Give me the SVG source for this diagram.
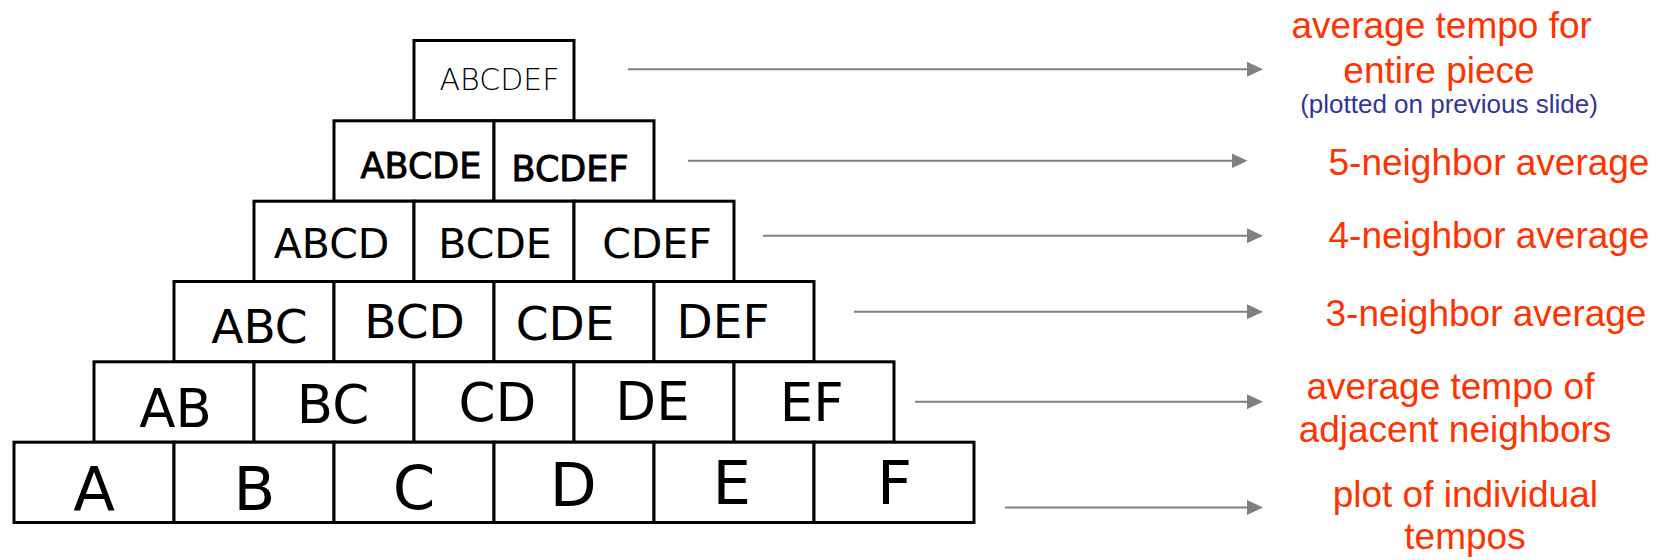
<svg xmlns="http://www.w3.org/2000/svg" width="1661" height="560" viewBox="0 0 1661 560">
<style>
.cell{fill:#ffffff;stroke:#000000;stroke-width:3}
.t{font-family:"DejaVu Sans",Verdana,sans-serif;fill:#000000;text-anchor:middle}
.r0{font-size:30px;font-weight:200}
.r1{font-size:35px;stroke:#000000;stroke-width:0.9}
.r2{font-size:41px}
.r3{font-size:47px}
.r4{font-size:53px}
.r5{font-size:61px}
.lab{font-family:"Liberation Sans",Arial,sans-serif;font-size:37px;fill:#ff3300;text-anchor:middle}
.sub{font-family:"Liberation Sans",Arial,sans-serif;font-size:26px;fill:#333399;text-anchor:middle}
.arr{stroke:#808080;stroke-width:2;fill:none}
</style>
<defs>
<marker id="ah" markerUnits="userSpaceOnUse" markerWidth="16" markerHeight="15" viewBox="0 0 16 15" refX="1" refY="7.5" orient="auto">
<path d="M0,0 L16,7.5 L0,15 z" fill="#808080"/>
</marker>
</defs>
<rect width="1661" height="560" fill="#ffffff"/>
<g id="row0">
<g id="n-ABCDEF"><rect class="cell" x="414" y="40.5" width="160" height="80.3"/><text class="t r0" x="499.5" y="90">ABCDEF</text></g>
</g>
<g id="row1">
<g id="n-ABCDE"><rect class="cell" x="334" y="120.8" width="160" height="80.4"/><text class="t r1" x="421" y="178.3">ABCDE</text></g>
<g id="n-BCDEF"><rect class="cell" x="494" y="120.8" width="160" height="80.4"/><text class="t r1" x="570" y="180.7">BCDEF</text></g>
</g>
<g id="row2">
<g id="n-ABCD"><rect class="cell" x="254" y="201.2" width="160" height="80.3"/><text class="t r2" x="331.5" y="258">ABCD</text></g>
<g id="n-BCDE"><rect class="cell" x="414" y="201.2" width="160" height="80.3"/><text class="t r2" x="495" y="258.3">BCDE</text></g>
<g id="n-CDEF"><rect class="cell" x="574" y="201.2" width="160" height="80.3"/><text class="t r2" x="657" y="258.3">CDEF</text></g>
</g>
<g id="row3">
<g id="n-ABC"><rect class="cell" x="174" y="281.5" width="160" height="80.3"/><text class="t r3" x="259.5" y="343">ABC</text></g>
<g id="n-BCD"><rect class="cell" x="334" y="281.5" width="160" height="80.3"/><text class="t r3" x="414.5" y="338">BCD</text></g>
<g id="n-CDE"><rect class="cell" x="494" y="281.5" width="160" height="80.3"/><text class="t r3" x="565" y="340">CDE</text></g>
<g id="n-DEF"><rect class="cell" x="654" y="281.5" width="160" height="80.3"/><text class="t r3" x="723" y="337.5">DEF</text></g>
</g>
<g id="row4">
<g id="n-AB"><rect class="cell" x="94" y="361.8" width="160" height="80.4"/><text class="t r4" x="175.5" y="426.7">AB</text></g>
<g id="n-BC"><rect class="cell" x="254" y="361.8" width="160" height="80.4"/><text class="t r4" x="333" y="422.7">BC</text></g>
<g id="n-CD"><rect class="cell" x="414" y="361.8" width="160" height="80.4"/><text class="t r4" x="497.5" y="420.7">CD</text></g>
<g id="n-DE"><rect class="cell" x="574" y="361.8" width="160" height="80.4"/><text class="t r4" x="652.5" y="419.5">DE</text></g>
<g id="n-EF"><rect class="cell" x="734" y="361.8" width="160" height="80.4"/><text class="t r4" x="811.7" y="420.7">EF</text></g>
</g>
<g id="row5">
<g id="n-A"><rect class="cell" x="14" y="442.2" width="160" height="80.3"/><text class="t r5" x="94" y="510">A</text></g>
<g id="n-B"><rect class="cell" x="174" y="442.2" width="160" height="80.3"/><text class="t r5" x="254.5" y="510">B</text></g>
<g id="n-C"><rect class="cell" x="334" y="442.2" width="160" height="80.3"/><text class="t r5" x="414" y="509">C</text></g>
<g id="n-D"><rect class="cell" x="494" y="442.2" width="160" height="80.3"/><text class="t r5" x="573.3" y="505.7">D</text></g>
<g id="n-E"><rect class="cell" x="654" y="442.2" width="160" height="80.3"/><text class="t r5" x="731.7" y="504">E</text></g>
<g id="n-F"><rect class="cell" x="814" y="442.2" width="160" height="80.3"/><text class="t r5" x="894.5" y="504">F</text></g>
</g>
<g id="connectors">
<line class="arr" x1="628" y1="69.3" x2="1248" y2="69.3" marker-end="url(#ah)"/>
<line class="arr" x1="688" y1="160.8" x2="1232.5" y2="160.8" marker-end="url(#ah)"/>
<line class="arr" x1="763" y1="235.7" x2="1248" y2="235.7" marker-end="url(#ah)"/>
<line class="arr" x1="854" y1="311.7" x2="1248" y2="311.7" marker-end="url(#ah)"/>
<line class="arr" x1="915" y1="401.7" x2="1248" y2="401.7" marker-end="url(#ah)"/>
<line class="arr" x1="1005" y1="507.5" x2="1248" y2="507.5" marker-end="url(#ah)"/>
</g>
<g id="label-entire">
<text class="lab" x="1441.7" y="38.3">average tempo for</text>
<text class="lab" x="1439" y="83.3">entire piece</text>
<text class="sub" x="1449" y="113">(plotted on previous slide)</text>
</g>
<g id="label-5"><text class="lab" x="1489" y="174.5">5-neighbor average</text></g>
<g id="label-4"><text class="lab" x="1489" y="247.7">4-neighbor average</text></g>
<g id="label-3"><text class="lab" x="1486" y="326">3-neighbor average</text></g>
<g id="label-2">
<text class="lab" x="1450.5" y="398.5">average tempo of</text>
<text class="lab" x="1455" y="441.7">adjacent neighbors</text>
</g>
<g id="label-1">
<text class="lab" x="1465.3" y="506.8">plot of individual</text>
<text class="lab" x="1465" y="549.3">tempos</text>
</g>
</svg>
